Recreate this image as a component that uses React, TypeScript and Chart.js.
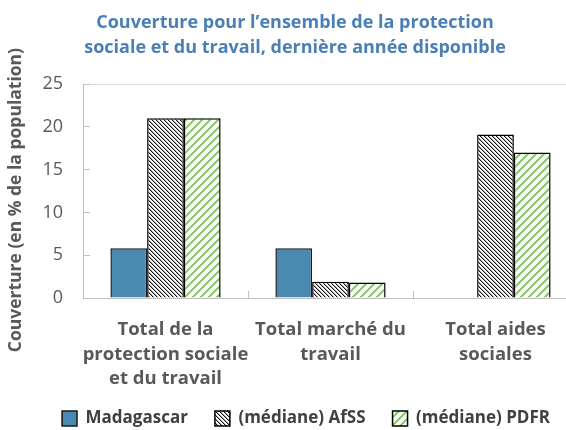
import React, { useEffect, useRef } from "react";
import { Chart, registerables } from "chart.js";

Chart.register(...registerables);

const categories: string[][] = [
  ["Total de la", "protection sociale", "et du travail"],
  ["Total marché du", "travail"],
  ["Total aides", "sociales"],
];
const seriesNames = ["Madagascar", "(médiane) AfSS", "(médiane) PDFR"];
const madagascar: (number | null)[] = [5.8, 5.8, null];
const afss: number[] = [21, 1.9, 19.1];
const pdfr: number[] = [21, 1.8, 17];
const titleLines = [
  "Couverture pour l’ensemble de la protection",
  "sociale et du travail, dernière année disponible",
];
const yAxisTitle = "Couverture (en % de la population)    ";
const yMin = 0;
const yMax = 25;
const yStep = 5;

const FONT = "'Open Sans', 'DejaVu Sans', sans-serif";

function makePattern(kind: "dense" | "green"): CanvasPattern | string {
  const tile = document.createElement("canvas");
  tile.width = 8;
  tile.height = 8;
  const c = tile.getContext("2d");
  if (!c) return "#ffffff";
  c.fillStyle = "#ffffff";
  c.fillRect(0, 0, 8, 8);
  for (let x = 0; x < 8; x++) {
    for (let y = 0; y < 8; y++) {
      if (kind === "dense") {
        const m = (((x - y) % 4) + 4) % 4;
        if (m === 0) {
          c.fillStyle = "#111111";
          c.fillRect(x, y, 1, 1);
        } else if (m === 1) {
          c.fillStyle = "#a8a8a8";
          c.fillRect(x, y, 1, 1);
        }
      } else {
        const m = (x + y) % 8;
        if (m <= 2) {
          c.fillStyle = "#93c677";
          c.fillRect(x, y, 1, 1);
        }
      }
    }
  }
  const ctx = document.createElement("canvas").getContext("2d");
  const p = ctx ? ctx.createPattern(tile, "repeat") : null;
  return p || "#ffffff";
}

const boxShift = {
  id: "boxShift",
  afterLayout(chart: any) {
    const l = chart.legend;
    if (l) {
      const dx = 17;
      const dy = -10;
      l.left += dx;
      l.right += dx;
      l.top += dy;
      l.bottom += dy;
    }
    const t = chart.titleBlock;
    if (t) {
      t.left += 6;
      t.right += 6;
    }
  },
};

export default function App() {
  const ref = useRef<HTMLCanvasElement | null>(null);

  useEffect(() => {
    if (!ref.current) return;
    const dense = makePattern("dense");
    const green = makePattern("green");
    const chart = new Chart(ref.current, {
      type: "bar",
      data: {
        labels: categories,
        datasets: [
          {
            label: seriesNames[0],
            data: madagascar,
            backgroundColor: "#4a89b0",
            borderColor: "#1a1a1a",
            borderWidth: 1.5,
          },
          {
            label: seriesNames[1],
            data: afss,
            backgroundColor: dense as any,
            borderColor: "#000000",
            borderWidth: 1.5,
          },
          {
            label: seriesNames[2],
            data: pdfr,
            backgroundColor: green as any,
            borderColor: "#000000",
            borderWidth: 1.5,
          },
        ],
      },
      options: {
        responsive: false,
        animation: false,
        devicePixelRatio: 1,
        datasets: {
          bar: { barPercentage: 1, categoryPercentage: 0.668 },
        },
        layout: { padding: { left: 0, right: 12, top: 0, bottom: -17 } },
        plugins: {
          tooltip: { enabled: false },
          title: {
            display: true,
            text: titleLines,
            color: "#4a7fb5",
            font: { family: FONT, size: 18, weight: "bold", lineHeight: 1.39 },
            padding: { top: 10, bottom: 24 },
          },
          legend: {
            display: true,
            position: "bottom",
            labels: {
              color: "#404040",
              font: { family: FONT, size: 17, weight: "bold" },
              boxWidth: 15,
              boxHeight: 15,
              padding: 27,
            },
          },
        },
        scales: {
          x: {
            afterFit: (s: any) => {
              s.height = 95;
            },
            grid: {
              display: true,
              drawOnChartArea: false,
              drawTicks: true,
              tickLength: -7,
              tickColor: "#bfbfbf",
              color: "#bfbfbf",
              offset: true,
            },
            border: { display: true, color: "#bfbfbf", width: 1 },
            ticks: {
              color: "#595959",
              font: { family: FONT, size: 18.5, weight: "bold", lineHeight: 1.32 },
              padding: 27,
              maxRotation: 0,
              minRotation: 0,
              autoSkip: false,
            },
          },
          y: {
            min: yMin,
            max: yMax,
            afterFit: (s: any) => {
              s.width = 83;
            },
            grid: {
              display: true,
              drawOnChartArea: true,
              drawTicks: true,
              tickLength: -7,
              tickColor: "#bfbfbf",
              color: (c: any) => (c.tick && c.tick.value === yMax ? "#d9d9d9" : "rgba(0,0,0,0)"),
            },
            border: { display: true, color: "#bfbfbf", width: 1 },
            ticks: {
              stepSize: yStep,
              color: "#595959",
              font: { family: FONT, size: 18 },
              padding: 27,
            },
            title: {
              display: true,
              text: yAxisTitle,
              color: "#595959",
              font: { family: FONT, size: 17.5, weight: "bold", lineHeight: 1.2 },
              padding: { top: 6, bottom: 0 },
            },
          },
        },
      },
      plugins: [boxShift],
    });
    return () => chart.destroy();
  }, []);

  return (
    <div
      style={{
        position: "fixed",
        left: 0,
        top: 0,
        width: 566,
        height: 430,
        overflow: "hidden",
        background: "#ffffff",
      }}
    >
      <canvas ref={ref} width={590} height={430} style={{ width: 590, height: 430, display: "block" }} />
    </div>
  );
}
